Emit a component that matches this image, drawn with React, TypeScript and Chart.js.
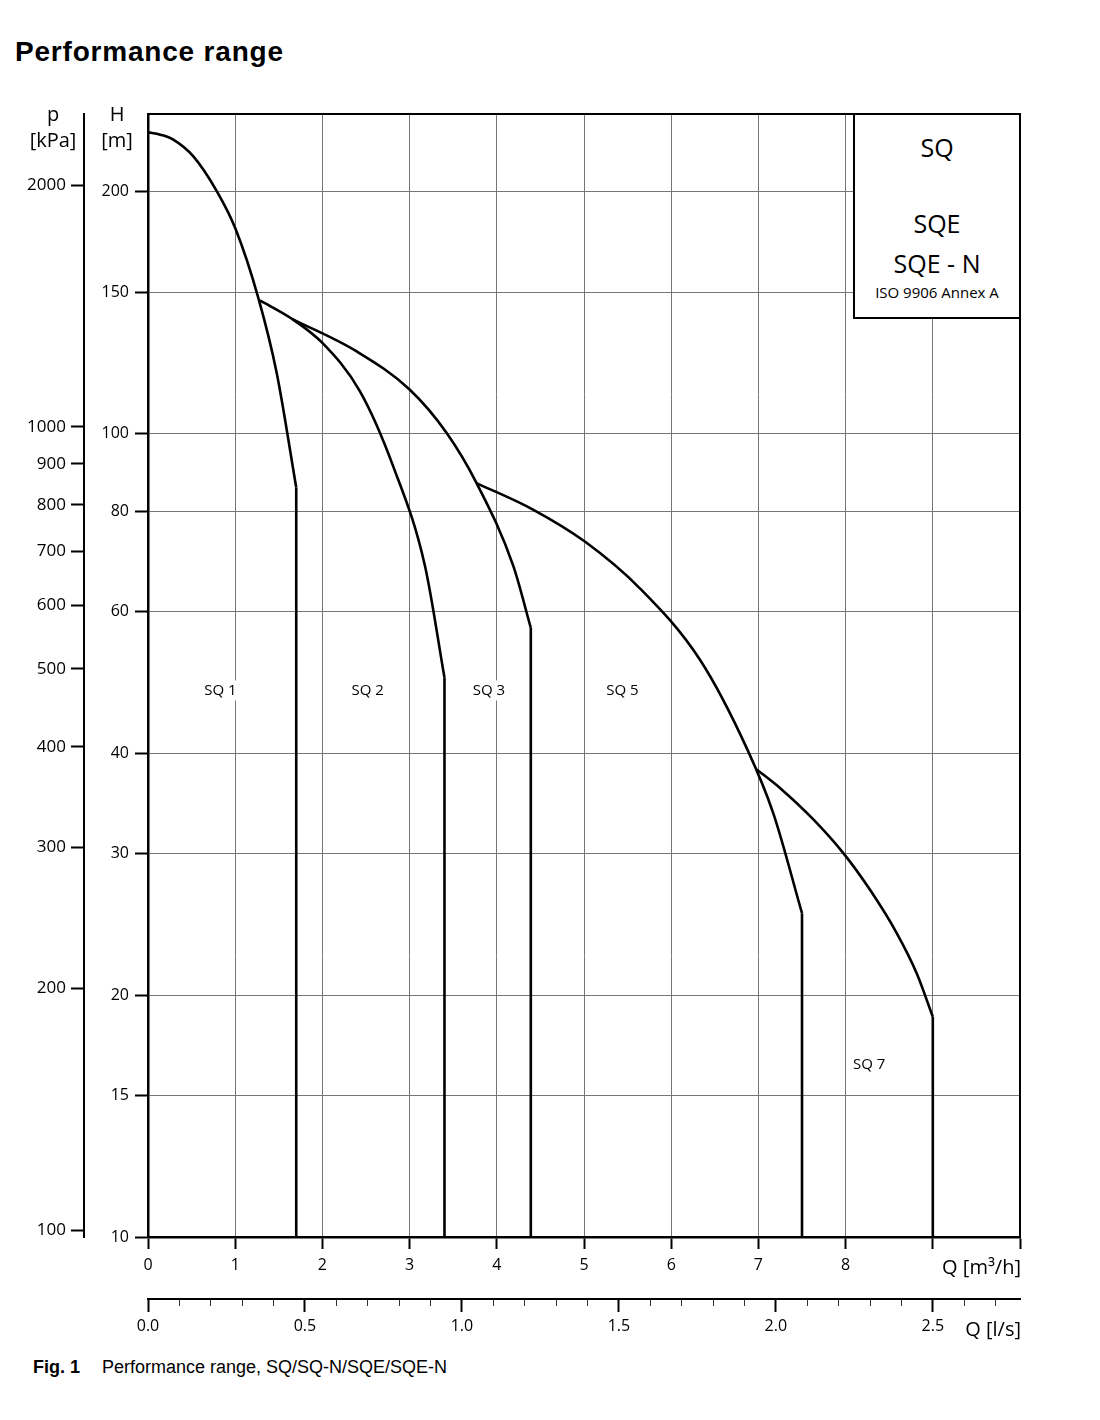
import React, { useEffect, useRef } from 'react';
import { Chart, registerables } from 'chart.js';

Chart.register(...registerables);

// ---------- axis ticks ----------
const Q_TICKS = [0, 1, 2, 3, 4, 5, 6, 7, 8, 9, 10];
const Q_TICK_LABELS = ['0', '1', '2', '3', '4', '5', '6', '7', '8', '', ''];
const QLS_TICKS = [0, 0.1, 0.2, 0.3, 0.4, 0.5, 0.6, 0.7, 0.8, 0.9, 1.0, 1.1, 1.2, 1.3, 1.4, 1.5, 1.6, 1.7, 1.8, 1.9, 2.0, 2.1, 2.2, 2.3, 2.4, 2.5, 2.6, 2.7];
const QLS_MAJOR = [0, 0.5, 1.0, 1.5, 2.0, 2.5];
const H_TICKS = [10, 15, 20, 30, 40, 60, 80, 100, 150, 200];
const P_TICKS = [100, 200, 300, 400, 500, 600, 700, 800, 900, 1000, 2000];

const Q_MAX = 10; // m3/h
const H_MIN = 10; // m
const H_MAX = 250; // m
const KPA_PER_M = 9.81;
const LS_PER_M3H = 1 / 3.6;

// ---------- curves (Q in m3/h, H in m) ----------
const SQ1_Q = [0, 0.14, 0.29, 0.52, 0.79, 1.0, 1.265, 1.476, 1.70];
const SQ1_H = [237.2, 235.6, 232.3, 221.4, 200.3, 180.3, 147.6, 119.0, 85.7];

const SQ2_Q = [1.284, 1.65, 2.0, 2.431, 2.813, 3.177, 3.40];
const SQ2_H = [146.5, 139.0, 129.7, 112.9, 91.0, 68.4, 49.7];

const SQ3_Q = [1.65, 2.393, 3.0, 3.425, 3.768, 4.19, 4.39];
const SQ3_H = [139.0, 126.6, 113.5, 100.2, 86.8, 68.4, 57.3];

const SQ5_Q = [3.768, 4.42, 5.01, 5.64, 6.33, 6.866, 7.17, 7.50];
const SQ5_H = [86.8, 80.4, 73.4, 64.2, 52.3, 40.6, 33.7, 25.3];

const SQ7_Q = [6.98, 7.25, 7.63, 7.974, 8.28, 8.586, 8.815, 9.0];
const SQ7_H = [38.2, 36.2, 33.1, 30.05, 27.05, 23.9, 21.3, 18.8];

// ---------- curve labels ----------
const CURVE_LABELS = ['SQ 1', 'SQ 2', 'SQ 3', 'SQ 5', 'SQ 7'];
const CURVE_LABEL_Q = [0.83, 2.52, 3.91, 5.44, 8.27];
const CURVE_LABEL_H = [47.9, 47.9, 47.9, 47.9, 16.4];

const FONT = "'Open Sans', 'Noto Sans', sans-serif";

const framePlugin = {
  id: 'frame',
  afterDatasetsDraw(chart: any) {
    const { ctx, chartArea } = chart;
    ctx.save();
    ctx.strokeStyle = '#000';
    ctx.lineWidth = 2;
    ctx.beginPath();
    ctx.moveTo(chartArea.left - 1, chartArea.top);
    ctx.lineTo(chartArea.right + 1, chartArea.top);
    ctx.moveTo(chartArea.right, chartArea.top);
    ctx.lineTo(chartArea.right, chartArea.bottom);
    ctx.stroke();
    ctx.restore();
  },
};

const labelPlugin = {
  id: 'curveLabels',
  afterDatasetsDraw(chart: any) {
    const { ctx } = chart;
    const x = chart.scales.x;
    const y = chart.scales.y;
    ctx.save();
    ctx.font = `15px ${FONT}`;
    ctx.textAlign = 'center';
    ctx.textBaseline = 'middle';
    CURVE_LABELS.forEach((t, i) => {
      const px = x.getPixelForValue(CURVE_LABEL_Q[i]);
      const py = y.getPixelForValue(CURVE_LABEL_H[i]);
      const w = ctx.measureText(t).width;
      ctx.fillStyle = '#fff';
      ctx.fillRect(px - w / 2 - 3, py - 10, w + 6, 20);
      ctx.fillStyle = '#000';
      ctx.fillText(t, px, py);
    });
    ctx.restore();
  },
};

const abs = (s: React.CSSProperties): React.CSSProperties => ({ position: 'absolute', whiteSpace: 'nowrap', margin: 0, ...s });

export default function App() {
  const ref = useRef<HTMLCanvasElement>(null);

  useEffect(() => {
    const canvas = ref.current;
    if (!canvas) return;

    const curves = [
      { q: SQ1_Q, h: SQ1_H },
      { q: SQ2_Q, h: SQ2_H },
      { q: SQ3_Q, h: SQ3_H },
      { q: SQ5_Q, h: SQ5_H },
      { q: SQ7_Q, h: SQ7_H },
    ];
    const datasets: any[] = [];
    curves.forEach((c) => {
      datasets.push({
        data: c.q.map((q, i) => ({ x: q, y: c.h[i] })),
        showLine: true,
        borderColor: '#000',
        borderWidth: 2.6,
        pointRadius: 0,
        cubicInterpolationMode: 'monotone',
        xAxisID: 'x',
        yAxisID: 'y',
      });
      const n = c.q.length - 1;
      datasets.push({
        data: [
          { x: c.q[n], y: c.h[n] },
          { x: c.q[n], y: H_MIN },
        ],
        showLine: true,
        borderColor: '#000',
        borderWidth: 2.6,
        pointRadius: 0,
        tension: 0,
        xAxisID: 'x',
        yAxisID: 'y',
      });
    });

    const isMajorLs = (v: number) => QLS_MAJOR.some((m) => Math.abs(m - v) < 1e-9);

    const chart = new Chart(canvas, {
      type: 'scatter',
      data: { datasets },
      options: {
        animation: false,
        responsive: true,
        maintainAspectRatio: false,
        events: [],
        layout: { padding: { top: 24, right: 80, bottom: 6, left: 0 } },
        plugins: { legend: { display: false }, tooltip: { enabled: false } },
        scales: {
          x: {
            type: 'linear',
            position: 'bottom',
            weight: 0,
            min: 0,
            max: Q_MAX,
            afterBuildTicks: (s: any) => {
              s.ticks = Q_TICKS.map((v) => ({ value: v }));
            },
            afterFit: (s: any) => {
              s.height = 62;
            },
            ticks: {
              autoSkip: false,
              maxRotation: 0,
              padding: 7,
              color: '#000',
              font: { family: FONT, size: 16 },
              callback: (_v: any, i: number) => Q_TICK_LABELS[i] ?? '',
            },
            grid: { color: '#777', lineWidth: 1, tickLength: 12, tickColor: '#000', tickWidth: 2 },
            border: { display: true, color: '#000', width: 2.5 },
          },
          x2: {
            type: 'linear',
            position: 'bottom',
            weight: 1,
            min: 0,
            max: Q_MAX * LS_PER_M3H,
            afterBuildTicks: (s: any) => {
              s.ticks = QLS_TICKS.map((v) => ({ value: v }));
            },
            afterFit: (s: any) => {
              s.height = 45;
            },
            ticks: {
              autoSkip: false,
              maxRotation: 0,
              padding: 5,
              color: '#000',
              font: { family: FONT, size: 16 },
              callback: (_v: any, i: number) => (isMajorLs(QLS_TICKS[i]) ? QLS_TICKS[i].toFixed(1) : ''),
            },
            grid: {
              drawOnChartArea: false,
              tickLength: 13,
              tickColor: (c: any) => (isMajorLs(c.tick.value) ? '#000' : '#333'),
              tickWidth: (c: any) => (isMajorLs(c.tick.value) ? 2 : 1),
              tickBorderDash: (c: any) => (isMajorLs(c.tick.value) ? [] : [6, 40]),
            },
            border: { display: true, color: '#000', width: 2 },
          },
          y: {
            type: 'logarithmic',
            position: 'left',
            weight: 0,
            min: H_MIN,
            max: H_MAX,
            afterBuildTicks: (s: any) => {
              s.ticks = H_TICKS.map((v) => ({ value: v }));
            },
            afterFit: (s: any) => {
              s.width = 64;
            },
            ticks: {
              autoSkip: false,
              padding: 6,
              color: '#000',
              font: { family: FONT, size: 16 },
              callback: (_v: any, i: number) => String(H_TICKS[i]),
            },
            grid: { color: '#777', lineWidth: 1, tickLength: 13, tickColor: '#000', tickWidth: 2 },
            border: { display: true, color: '#000', width: 2.5 },
          },
          p: {
            type: 'logarithmic',
            position: 'left',
            weight: 1,
            min: H_MIN * KPA_PER_M,
            max: H_MAX * KPA_PER_M,
            afterBuildTicks: (s: any) => {
              s.ticks = P_TICKS.map((v) => ({ value: v }));
            },
            afterFit: (s: any) => {
              s.width = 84;
            },
            ticks: {
              autoSkip: false,
              padding: 5,
              color: '#000',
              font: { family: FONT, size: 17 },
              callback: (_v: any, i: number) => String(P_TICKS[i]),
            },
            grid: { drawOnChartArea: false, tickLength: 13, tickColor: '#000', tickWidth: 2 },
            border: { display: true, color: '#000', width: 2 },
          },
        },
      } as any,
      plugins: [framePlugin, labelPlugin],
    });

    return () => chart.destroy();
  }, []);

  const sans = "'Liberation Sans', Arial, sans-serif";
  const axisTitle: React.CSSProperties = { fontFamily: FONT, fontSize: 20, lineHeight: '20px', color: '#000' };

  return (
    <div style={{ position: 'absolute', left: 0, top: 0, width: 1100, height: 1420, background: '#fff', overflow: 'hidden' }}>
      <div style={abs({ left: 15, top: 38, fontFamily: sans, fontWeight: 'bold', fontSize: 28, lineHeight: '28px', letterSpacing: 0.8, color: '#000' })}>
        Performance range
      </div>

      <div style={{ position: 'absolute', left: 0, top: 90, width: 1100, height: 1260 }}>
        <canvas ref={ref} />
      </div>

      {/* axis titles */}
      <div style={abs({ ...axisTitle, left: 13, width: 80, top: 104, textAlign: 'center' })}>p</div>
      <div style={abs({ ...axisTitle, left: 13, width: 80, top: 130, textAlign: 'center' })}>[kPa]</div>
      <div style={abs({ ...axisTitle, left: 77, width: 80, top: 104, textAlign: 'center' })}>H</div>
      <div style={abs({ ...axisTitle, left: 77, width: 80, top: 130, textAlign: 'center' })}>[m]</div>
      <div style={abs({ ...axisTitle, left: 880, width: 141, top: 1257, textAlign: 'right' })}>Q [m³/h]</div>
      <div style={abs({ ...axisTitle, left: 880, width: 141, top: 1319, textAlign: 'right' })}>Q [l/s]</div>

      {/* product box */}
      <div style={abs({ left: 853, top: 113, width: 168, height: 206, boxSizing: 'border-box', border: '2px solid #000', background: '#fff' })} />
      <div style={abs({ fontFamily: FONT, fontSize: 25, lineHeight: '25px', left: 853, width: 168, textAlign: 'center', top: 135 })}>SQ</div>
      <div style={abs({ fontFamily: FONT, fontSize: 25, lineHeight: '25px', left: 853, width: 168, textAlign: 'center', top: 211 })}>SQE</div>
      <div style={abs({ fontFamily: FONT, fontSize: 25, lineHeight: '25px', left: 853, width: 168, textAlign: 'center', top: 251 })}>SQE - N</div>
      <div style={abs({ fontFamily: FONT, fontSize: 15, lineHeight: '15px', left: 853, width: 168, textAlign: 'center', top: 285 })}>ISO 9906 Annex A</div>

      {/* caption */}
      <div style={abs({ left: 33, top: 1358, fontFamily: sans, fontWeight: 'bold', fontSize: 18, lineHeight: '18px', color: '#000' })}>Fig. 1</div>
      <div style={abs({ left: 102, top: 1358, fontFamily: sans, fontSize: 18, lineHeight: '18px', color: '#000' })}>
        Performance range, SQ/SQ-N/SQE/SQE-N
      </div>
    </div>
  );
}
